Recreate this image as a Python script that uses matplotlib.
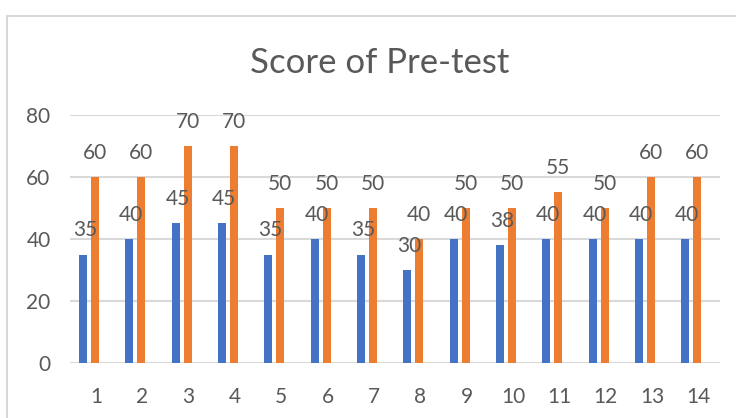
import matplotlib.pyplot as plt
from matplotlib.patches import Rectangle
import numpy as np

plt.rcParams['font.family'] = ['Lato', 'DejaVu Sans']

students = list(range(1, 15))
blue_scores = [35, 40, 45, 45, 35, 40, 35, 30, 40, 38, 40, 40, 40, 40]
orange_scores = [60, 60, 70, 70, 50, 50, 50, 40, 50, 50, 55, 50, 60, 60]
y_ticks = [0, 20, 40, 60, 80]

text_col = '#595959'
grid_col = '#D9D9D9'

fig = plt.figure(figsize=(7.36, 4.18), dpi=100)
ax = fig.add_axes([70 / 736, 1 - 363.3 / 418, 650 / 736, 248.6 / 418])

x = np.array(students)
w = 0.17
b1 = ax.bar(x - 0.26, blue_scores, width=w, color='#4472C4', zorder=3)
b2 = ax.bar(x, orange_scores, width=w, color='#ED7D31', zorder=3)

# data labels: blue ones sit a bit to the right of their bar
for bars, vals, dx in ((b1, blue_scores, 0.04), (b2, orange_scores, 0.0)):
    for r, v in zip(bars, vals):
        ax.annotate(str(v), (r.get_x() + r.get_width() / 2 + dx, v),
                    xytext=(0, 13), textcoords='offset points',
                    ha='center', va='baseline', fontsize=15, color=text_col,
                    zorder=4)

ax.set_xlim(0.46, 14.49)
ax.set_ylim(0, 80)
ax.set_yticks(y_ticks)
ax.set_xticks(x + 0.02)
ax.set_xticklabels([str(s) for s in students])
ax.yaxis.grid(True, color=grid_col, linewidth=1.5, zorder=0)
for s in ax.spines.values():
    s.set_visible(False)
ax.tick_params(axis='both', length=0, labelsize=15, colors=text_col)
ax.tick_params(axis='x', pad=17)
ax.tick_params(axis='y', pad=14)

fig.text(380 / 736, 1 - 73 / 418, 'Score of Pre-test', ha='center', va='baseline',
         fontsize=25, color=text_col)

fig.patches.append(Rectangle((7 / 736, -0.1), 1.2, 1 - 16 / 418 + 0.1,
                             transform=fig.transFigure, fill=False,
                             edgecolor=grid_col, linewidth=1.5))

fig.savefig('out.png', dpi=100)
